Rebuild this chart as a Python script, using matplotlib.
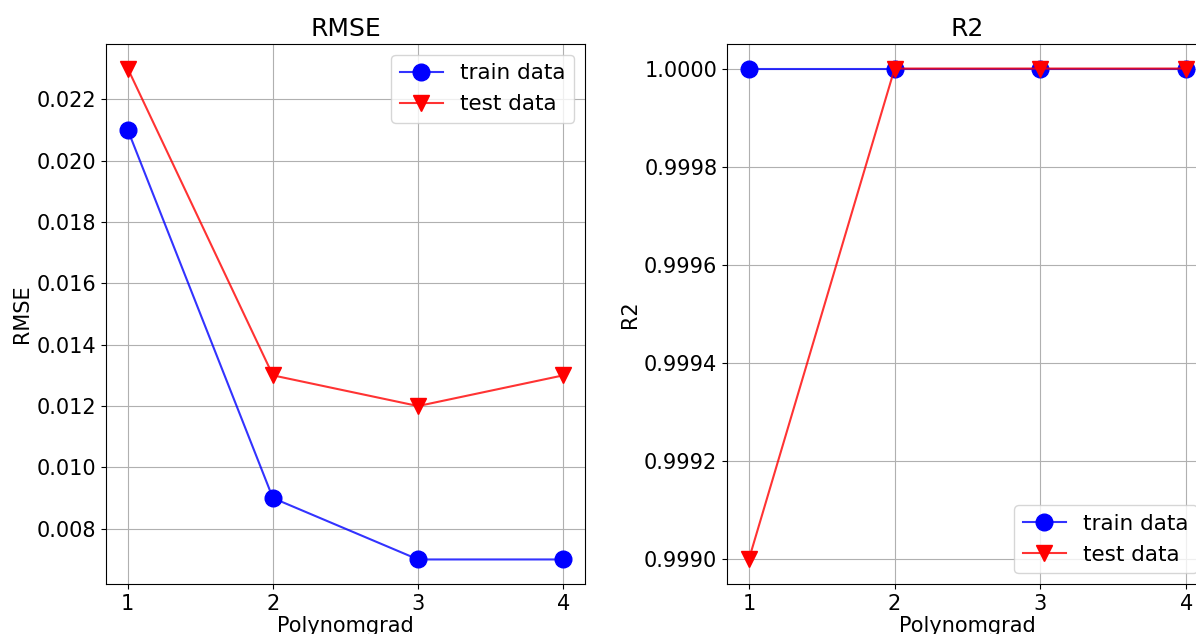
import numpy as np
import matplotlib.pyplot as plt

degree = [1, 2, 3, 4]
rmse_train = [0.021, 0.009, 0.007, 0.007]
rmse_test = [0.023, 0.013, 0.012, 0.013]
r2_train = [1.0, 1.0, 1.0, 1.0]
r2_test = [0.999, 1.0, 1.0, 1.0]

fig = plt.figure(figsize=(11.96, 6.34), dpi=100)
ax1 = fig.add_axes([106/1196, 1 - 584/634, 479/1196, 540/634])
ax2 = fig.add_axes([727/1196, 1 - 584/634, 481/1196, 540/634])

for ax, tr, te, name, loc in [(ax1, rmse_train, rmse_test, 'RMSE', 'upper right'),
                              (ax2, r2_train, r2_test, 'R2', 'lower right')]:
    # slightly translucent line, solid markers
    ax.plot(degree, tr, color=(0, 0, 1, 0.8), marker='o', markersize=12,
            markerfacecolor='b', markeredgecolor='b', label='train data')
    ax.plot(degree, te, color=(1, 0, 0, 0.8), marker='v', markersize=12,
            markerfacecolor='r', markeredgecolor='r', label='test data')
    ax.set_title(name, fontsize=18)
    ax.set_xlabel('Polynomgrad', fontsize=15, labelpad=2)
    ax.set_ylabel(name, fontsize=15, labelpad=3)
    ax.set_xticks(degree)
    ax.tick_params(labelsize=15)
    ax.grid(True)
    ax.legend(loc=loc, fontsize=15.5)

ax1.set_yticks(np.arange(0.008, 0.0225, 0.002))
r2_ticks = [0.999, 0.9992, 0.9994, 0.9996, 0.9998, 1.0]
ax2.set_yticks(r2_ticks)
ax2.set_yticklabels(['%.4f' % v for v in r2_ticks])

plt.savefig('out.png', dpi=100)
